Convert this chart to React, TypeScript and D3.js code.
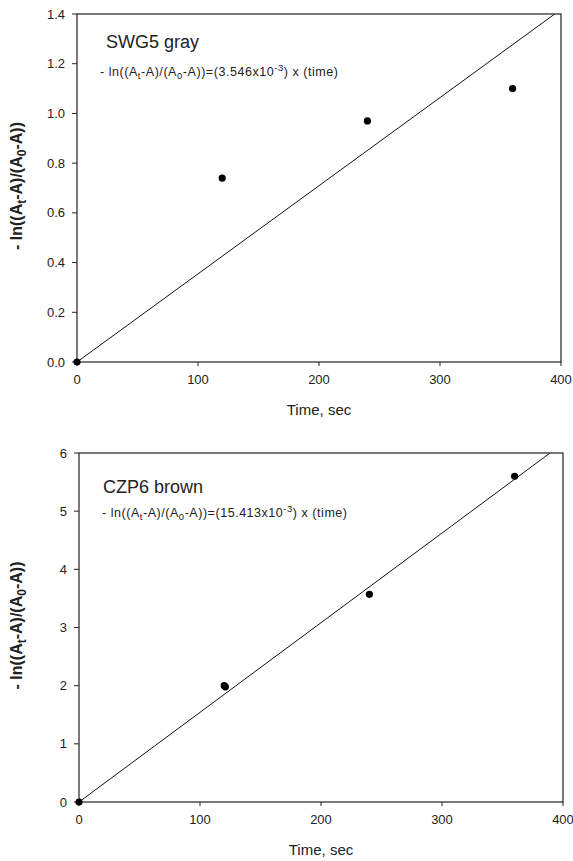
import * as d3 from 'd3';

// top panel: SWG5 gray
const swgTime = [0, 120, 240, 360];
const swgValue = [0, 0.74, 0.97, 1.1];
const swgSlope = 3.546e-3;
const swgYTicks = [0, 0.2, 0.4, 0.6, 0.8, 1.0, 1.2, 1.4];

// bottom panel: CZP6 brown
const czpTime = [0, 120, 121, 240, 360];
const czpValue = [0, 2.0, 1.98, 3.57, 5.6];
const czpSlope = 15.413e-3;
const czpYTicks = [0, 1, 2, 3, 4, 5, 6];

const xTicks = [0, 100, 200, 300, 400];

const FONT = 'Arial, "Liberation Sans", sans-serif';
const INK = '#222';

function Panel({ top, bottom, left, right, time, values, slope, yMax, yTicks, yFmt, title, titleX, titleY, coef, eqX, eqY, eqLen, clipId }) {
  const x = d3.scaleLinear().domain([0, 400]).range([left, right]);
  const y = d3.scaleLinear().domain([0, yMax]).range([bottom, top]);
  const fit = d3.line<number>().x((t) => x(t)).y((t) => y(slope * t));
  const fitPts = [0, 400];

  return (
    <g fontFamily={FONT} fill={INK}>
      <defs>
        <clipPath id={clipId}>
          <rect x={left} y={top} width={right - left} height={bottom - top} />
        </clipPath>
      </defs>
      <path d={fit(fitPts) ?? ''} stroke="#111" strokeWidth={1} fill="none" clipPath={`url(#${clipId})`} />
      <rect x={left} y={top} width={right - left} height={bottom - top} fill="none" stroke={INK} strokeWidth={1.2} />
      {yTicks.map((t) => (
        <g key={'y' + t}>
          <line x1={left - 5} x2={left} y1={y(t)} y2={y(t)} stroke={INK} />
          <text x={left - 12} y={y(t)} dy="0.35em" textAnchor="end" fontSize={13}>
            {yFmt(t)}
          </text>
        </g>
      ))}
      {xTicks.map((t) => (
        <g key={'x' + t}>
          <line x1={x(t)} x2={x(t)} y1={bottom} y2={bottom + 4} stroke={INK} />
          <text x={x(t)} y={bottom + 22} textAnchor="middle" fontSize={13}>
            {t}
          </text>
        </g>
      ))}
      {time.map((t, i) => (
        <circle key={'p' + i} cx={x(t)} cy={y(values[i])} r={3.6} fill="#000" />
      ))}
      <text x={(left + right) / 2} y={bottom + 53} textAnchor="middle" fontSize={15}>
        Time, sec
      </text>
      <text
        transform={`translate(22,${(top + bottom) / 2 - 2}) rotate(-90)`}
        textAnchor="middle"
        fontSize={16}
        fontWeight="bold"
      >
        - ln((A<tspan fontSize={12} dy={4}>t</tspan>
        <tspan dy={-4}>-A)/(A</tspan>
        <tspan fontSize={12} dy={4}>0</tspan>
        <tspan dy={-4}>-A))</tspan>
      </text>
      <text x={titleX} y={titleY} fontSize={18}>
        {title}
      </text>
      <text x={eqX} y={eqY} fontSize={12.5} textLength={eqLen} lengthAdjust="spacing">
        - ln((A<tspan fontSize={9.5} dy={3}>t</tspan>
        <tspan dy={-3}>-A)/(A</tspan>
        <tspan fontSize={9.5} dy={3}>0</tspan>
        <tspan dy={-3}>-A))=({coef}x10</tspan>
        <tspan fontSize={9.5} dy={-5}>-3</tspan>
        <tspan dy={5}>) x (time)</tspan>
      </text>
    </g>
  );
}

export default function App() {
  return (
    <svg width={573} height={861} style={{ position: 'absolute', left: 0, top: 0, background: '#fff' }}>
      <rect width={573} height={861} fill="#fff" />
      <Panel
        top={14}
        bottom={362}
        left={77}
        right={561}
        time={swgTime}
        values={swgValue}
        slope={swgSlope}
        yMax={1.4}
        yTicks={swgYTicks}
        yFmt={d3.format('.1f')}
        title="SWG5 gray"
        titleX={106}
        titleY={48}
        coef="3.546"
        eqX={100}
        eqY={76}
        eqLen={238}
        clipId="clipTop"
      />
      <Panel
        top={453}
        bottom={802}
        left={79}
        right={563}
        time={czpTime}
        values={czpValue}
        slope={czpSlope}
        yMax={6}
        yTicks={czpYTicks}
        yFmt={d3.format('d')}
        title="CZP6 brown"
        titleX={103}
        titleY={493}
        coef="15.413"
        eqX={102}
        eqY={517}
        eqLen={245}
        clipId="clipBottom"
      />
    </svg>
  );
}
